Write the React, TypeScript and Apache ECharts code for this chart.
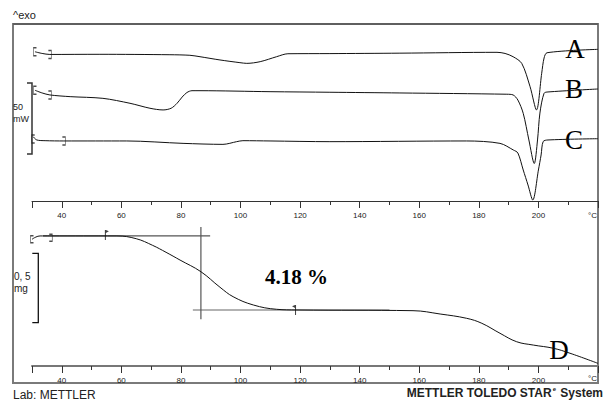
import React, { useEffect, useRef } from 'react';
import * as echarts from 'echarts';

const xMin = 30;
const xMax = 220;
const xLabelValues = [40, 60, 80, 100, 120, 140, 160, 180, 200];
const xMajorTicks = [30, 40, 60, 80, 100, 120, 140, 160, 180, 200, 220];

// DSC curves (°C, mW with arbitrary offsets)
const curveA: number[][] = [
  [31.0, 105.4], [33.4, 104.2], [36.0, 103.5], [52.8, 103.6], [76.3, 103.3], [83.0, 102.9],
  [86.4, 101.9], [93.1, 99.6], [99.8, 97.7], [102.1, 97.2], [106.6, 98.4], [112.1, 101.9],
  [115.9, 104.0], [130.0, 104.1], [153.5, 104.4], [186.1, 105.0], [188.8, 104.2], [191.5, 101.9],
  [194.4, 97.2], [197.2, 80.7], [199.35, 64.3], [201.1, 90.2], [201.9, 101.0], [202.9, 104.7],
  [220, 107.1],
];
const curveB: number[][] = [
  [31.0, 78.2], [33.4, 76.3], [36.0, 74.9], [42.8, 73.7], [53.8, 72.5], [62.9, 69.0],
  [69.6, 65.5], [74.0, 64.3], [76.7, 65.5], [78.7, 69.0], [80.4, 73.4], [82.0, 76.6],
  [83.7, 77.9], [86.4, 77.9], [109.9, 77.2], [130.0, 76.8], [153.5, 76.3], [189.4, 75.4],
  [191.5, 74.9], [193.1, 71.3], [194.9, 61.9], [196.8, 43.1], [198.6, 26.5], [199.7, 43.1],
  [200.5, 62.1], [201.9, 76.1], [203.2, 77.0], [220, 79.1],
];
const curveC: number[][] = [
  [30.4, 45.4], [31.6, 43.1], [34.4, 42.6], [40.7, 42.4], [61.8, 42.4], [80.7, 40.7],
  [94.1, 40.0], [98.7, 41.9], [100.8, 42.6], [109.9, 42.4], [130.0, 41.9], [175.9, 42.4],
  [187.1, 40.7], [191.6, 36.0], [193.1, 33.9], [194.9, 21.9], [196.5, 11.3], [198.1, 0.7],
  [200.0, 21.9], [200.9, 32.5], [201.6, 42.0], [203.2, 43.1], [220, 44.0],
];
// TGA curve (°C, mg with arbitrary offset)
const curveD: number[][] = [
  [30, 0.914], [31.3, 0.93], [32.7, 0.938], [36, 0.938], [58.5, 0.938], [65, 0.918],
  [70.5, 0.87], [75, 0.82], [79.7, 0.764], [86.7, 0.68], [93.1, 0.568], [97.5, 0.5],
  [104.3, 0.44], [112.1, 0.409], [118.9, 0.404], [157.9, 0.399], [167.0, 0.375], [175.9, 0.344],
  [181.0, 0.308], [187.1, 0.236], [192.7, 0.175], [198.3, 0.151], [205.0, 0.128],
  [210.6, 0.092], [220, 0.019],
];
const upperTangent: number[][] = [[33.7, 0.938], [89.8, 0.938]];
const lowerTangent: number[][] = [[84, 0.404], [150, 0.404]];
const stepLine: number[][] = [[86.7, 1.002], [86.7, 0.337]];
const leftFlags: number[][] = [[54.8, 0.938]];
const rightFlags: number[][] = [[118.3, 0.404]];

const dscOpenBrackets: number[][] = [[31.0, 105.4], [31.0, 78.2], [30.4, 43.8]];
const dscCloseBrackets: number[][] = [[36.0, 103.5], [36.0, 74.9], [40.7, 42.4]];
const tgaOpenBrackets: number[][] = [[30, 0.914]];
const tgaCloseBrackets: number[][] = [[36.3, 0.925]];

const stepText = '4.18 %';

const SANS = '"Liberation Sans", Arial, sans-serif';
const SERIF = '"Liberation Serif", "Times New Roman", serif';

const openPath = 'path://M3,0 L0,0 L0,10 L3,10';
const closePath = 'path://M0,0 L3,0 L3,10 L0,10';
const flagRight = 'path://M0,0 L1,0 L1,12 L0,12 Z M1,0 L4,1.6 L1,3.6 Z';
const flagLeft = 'path://M3,0 L4,0 L4,12 L3,12 Z M3,0 L0,1.6 L3,3.6 Z';

function dataAxis(gridIndex: number, lineColor: string, lineWidth: number) {
  return {
    type: 'value',
    gridIndex,
    min: xMin,
    max: xMax,
    interval: 10,
    position: 'bottom',
    axisLine: { show: true, onZero: false, lineStyle: { color: lineColor, width: lineWidth } },
    axisTick: { show: true, length: 4, lineStyle: { color: '#333', width: 1 } },
    axisLabel: {
      show: true,
      customValues: xLabelValues,
      fontSize: 8,
      margin: 10,
      color: '#222',
      fontFamily: SANS,
    },
    splitLine: { show: false },
  };
}
function overlayAxis(gridIndex: number) {
  return {
    type: 'value',
    gridIndex,
    min: xMin,
    max: xMax,
    interval: 10,
    position: 'bottom',
    axisLine: { show: false, onZero: false },
    axisTick: { show: true, customValues: xMajorTicks, length: 7, lineStyle: { color: '#333', width: 1 } },
    axisLabel: { show: false },
    splitLine: { show: false },
  };
}

function lineSeries(name: string, data: number[][], xi: number, yi: number, color: string, width = 1, smooth: number | boolean = 0.3) {
  return {
    name,
    type: 'line',
    xAxisIndex: xi,
    yAxisIndex: yi,
    data,
    showSymbol: false,
    smooth,
    lineStyle: { color, width },
    silent: true,
  };
}
function markSeries(data: number[][], xi: number, yi: number, symbol: string, size: number[], offset: number[], filled: boolean) {
  return {
    type: 'scatter',
    xAxisIndex: xi,
    yAxisIndex: yi,
    data,
    symbol,
    symbolSize: size,
    symbolOffset: offset,
    itemStyle: filled
      ? { color: '#111' }
      : { color: 'transparent', borderColor: '#222', borderWidth: 1 },
    silent: true,
    z: 5,
  };
}

export default function App() {
  const ref = useRef<HTMLDivElement>(null);
  useEffect(() => {
    if (!ref.current) return;
    const chart = echarts.init(ref.current, undefined, { renderer: 'svg' });
    chart.setOption({
      animation: false,
      backgroundColor: '#ffffff',
      grid: [
        { left: 32, top: 24, width: 566, height: 177 },
        { left: 32, top: 201, width: 566, height: 165 },
      ],
      xAxis: [dataAxis(0, '#333', 1), overlayAxis(0), dataAxis(1, '#777', 2), overlayAxis(1)],
      yAxis: [
        { type: 'value', gridIndex: 0, min: 0, max: 125, show: false },
        { type: 'value', gridIndex: 1, min: 0, max: 1.19, show: false },
      ],
      series: [
        lineSeries('A', curveA, 0, 0, '#111'),
        lineSeries('B', curveB, 0, 0, '#111'),
        lineSeries('C', curveC, 0, 0, '#111'),
        lineSeries('upper tangent', upperTangent, 2, 1, '#555', 1.2, false),
        lineSeries('lower tangent', lowerTangent, 2, 1, '#666', 1.2, false),
        lineSeries('step', stepLine, 2, 1, '#555', 1.2, false),
        lineSeries('D', curveD, 2, 1, '#111', 1, 0.4),
        markSeries(dscOpenBrackets, 0, 0, openPath, [3, 8], [0, 0], false),
        markSeries(dscCloseBrackets, 0, 0, closePath, [3, 8], [0, 0], false),
        markSeries(tgaOpenBrackets, 2, 1, openPath, [3, 7], [0, 0], false),
        markSeries(tgaCloseBrackets, 2, 1, closePath, [3, 7], [0, 0], false),
        markSeries(leftFlags, 2, 1, flagRight, [4, 10], [1, -1], true),
        markSeries(rightFlags, 2, 1, flagLeft, [4, 10], [-1, 0], true),
      ],
      graphic: [
        { type: 'rect', shape: { x: 13, y: 24, width: 585, height: 359 }, style: { fill: 'none', stroke: '#7a7a7a', lineWidth: 2 }, silent: true },
        { type: 'line', shape: { x1: 13, y1: 24, x2: 598, y2: 24 }, style: { stroke: '#444', lineWidth: 1 }, silent: true },
        { type: 'polyline', shape: { points: [[27, 83], [32, 83], [32, 154], [27, 154]] }, style: { fill: 'none', stroke: '#333', lineWidth: 1.5 }, silent: true },
        { type: 'polyline', shape: { points: [[32.3, 253.3], [38.3, 253.3], [38.3, 322.7], [32.3, 322.7]] }, style: { fill: 'none', stroke: '#111', lineWidth: 1.3 }, silent: true },
        { type: 'text', x: 13, y: 15, style: { text: '^exo', font: `11px ${SANS}`, fill: '#222', textVerticalAlign: 'middle' } },
        { type: 'text', x: 13, y: 107, style: { text: '50', font: `9px ${SANS}`, fill: '#222', textVerticalAlign: 'middle' } },
        { type: 'text', x: 13, y: 119, style: { text: 'mW', font: `9px ${SANS}`, fill: '#222', textVerticalAlign: 'middle' } },
        { type: 'text', x: 14, y: 276, style: { text: '0, 5', font: `10px ${SANS}`, fill: '#222', textVerticalAlign: 'middle' } },
        { type: 'text', x: 14, y: 288, style: { text: 'mg', font: `10px ${SANS}`, fill: '#222', textVerticalAlign: 'middle' } },
        { type: 'text', x: 597, y: 215, style: { text: '°C', font: `8px ${SANS}`, fill: '#222', textAlign: 'right', textVerticalAlign: 'middle' } },
        { type: 'text', x: 597, y: 378, style: { text: '°C', font: `8px ${SANS}`, fill: '#222', textAlign: 'right', textVerticalAlign: 'middle' } },
        { type: 'text', x: 575, y: 49, style: { text: 'A', font: `27px ${SERIF}`, fill: '#000', textAlign: 'center', textVerticalAlign: 'middle' } },
        { type: 'text', x: 574, y: 89, style: { text: 'B', font: `27px ${SERIF}`, fill: '#000', textAlign: 'center', textVerticalAlign: 'middle' } },
        { type: 'text', x: 574, y: 139.5, style: { text: 'C', font: `27px ${SERIF}`, fill: '#000', textAlign: 'center', textVerticalAlign: 'middle' } },
        { type: 'text', x: 559, y: 350, style: { text: 'D', font: `27px ${SERIF}`, fill: '#000', textAlign: 'center', textVerticalAlign: 'middle' } },
        { type: 'text', x: 296.5, y: 277, style: { text: stepText, font: `bold 21px ${SERIF}`, fill: '#000', textAlign: 'center', textVerticalAlign: 'middle' } },
        { type: 'text', x: 13, y: 395, style: { text: 'Lab: METTLER', font: `12px ${SANS}`, fill: '#222', textVerticalAlign: 'middle' } },
        {
          type: 'text', x: 603, y: 393,
          style: {
            text: '{a|METTLER TOLEDO STAR}{e|e}{a| System}',
            textAlign: 'right', textVerticalAlign: 'middle',
            rich: {
              a: { font: `bold 12px ${SANS}`, fill: '#222', lineHeight: 14 },
              e: { font: `bold 6px ${SANS}`, fill: '#222', lineHeight: 14, verticalAlign: 'top', padding: [0, 1, 0, 1] },
            },
          },
        },
      ],
    });
    return () => chart.dispose();
  }, []);
  return <div ref={ref} style={{ position: 'fixed', left: 0, top: 0, width: 612, height: 417 }} />;
}
